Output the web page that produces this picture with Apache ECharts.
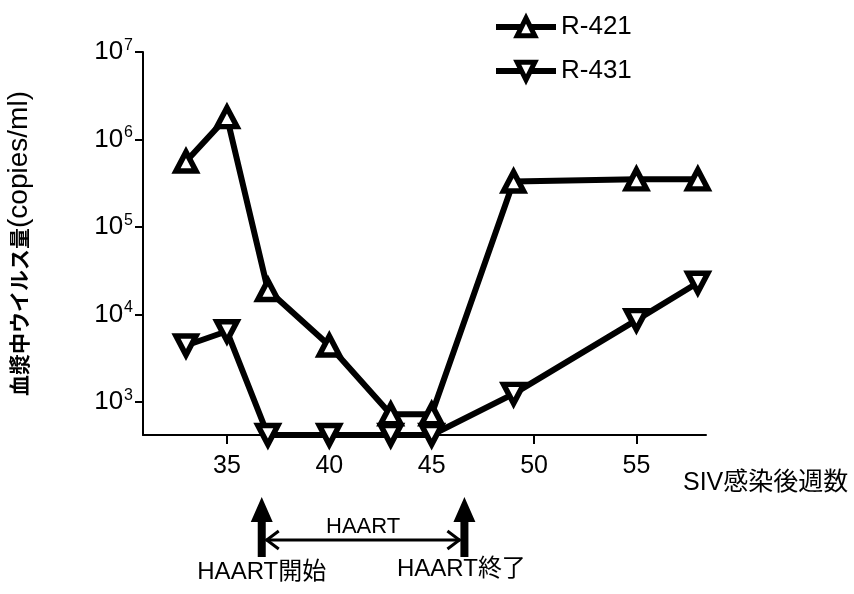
<!DOCTYPE html>
<html><head><meta charset="utf-8">
<script src="https://cdn.jsdelivr.net/npm/echarts@6/dist/echarts.min.js"></script>
<style>html,body{margin:0;padding:0;background:#fff}#c{width:854px;height:594px}</style>
</head><body><div id="c"></div>
<script>
const weeks = [33, 35, 37, 40, 43, 45, 49, 55, 58];
const r421 = [5.6e5, 1.8e6, 1.9e4, 4.4e3, 720, 720, 3.3e5, 3.5e5, 3.5e5];
const r431 = [4.4e3, 6.4e3, 417, 417, 417, 417, 1.23e3, 8.6e3, 2.3e4];
const seriesNames = ['R-421', 'R-431'];
const yTicks = [1e3, 1e4, 1e5, 1e6, 1e7];
const xTicks = [35, 40, 45, 50, 55];
const haartStart = 36.7, haartEnd = 46.6;
const xTitle = 'SIV感染後週数';
const yTitleJa = '血漿中ウイルス量';
const yTitleEn = '(copies/ml)';

const FONT = '"Liberation Sans", "Noto Sans CJK JP", sans-serif';
const chart = echarts.init(document.getElementById('c'), null, {renderer: 'canvas'});

function pairs(xs, ys) { return xs.map((x, i) => [x, ys[i]]); }

const common = {
  type: 'line',
  symbolSize: [20, 19],
  lineStyle: {color: '#000', width: 6},
  itemStyle: {color: '#fff', borderColor: '#000', borderWidth: 5.5},
  emphasis: {disabled: true},
  animation: false
};

chart.setOption({
  animation: false,
  backgroundColor: '#fff',
  textStyle: {fontFamily: FONT, color: '#000'},
  grid: {left: 143, right: 148, top: 52, bottom: 159, containLabel: false, outerBoundsMode: 'none'},
  legend: {
    orient: 'vertical', left: 488, top: 9, itemGap: 18,
    itemWidth: 60, itemHeight: 22,
    lineStyle: {width: 6, color: '#000'},
    itemStyle: {color: '#fff', borderColor: '#000', borderWidth: 5},
    textStyle: {fontSize: 26, color: '#000', fontFamily: FONT},
    data: seriesNames
  },
  xAxis: {
    type: 'value', min: 30.9, max: 58.4,
    axisLine: {show: true, lineStyle: {color: '#000', width: 2}},
    axisTick: {show: true, length: 9, lineStyle: {color: '#000', width: 2}, customValues: xTicks},
    axisLabel: {fontSize: 25, color: '#000', margin: 19, customValues: xTicks, fontFamily: FONT},
    splitLine: {show: false}
  },
  yAxis: {
    type: 'log', logBase: 10, min: 417, max: 1e7,
    axisLine: {show: true, lineStyle: {color: '#000', width: 2}},
    axisTick: {show: true, length: 8, lineStyle: {color: '#000', width: 2}, customValues: yTicks},
    axisLabel: {
      margin: 10, customValues: yTicks,
      formatter: v => '{b|10}{s|' + Math.round(Math.log10(v)) + '}',
      rich: {
        b: {fontSize: 26, color: '#000', fontFamily: FONT},
        s: {fontSize: 16, color: '#000', fontFamily: FONT, verticalAlign: 'top', padding: [0, 0, 13, 1]}
      }
    },
    splitLine: {show: false},
    name: '{j|' + yTitleJa + '}{e|' + yTitleEn + '}',
    nameLocation: 'middle', nameRotate: 90, nameGap: 110,
    nameTextStyle: {
      rich: {
        j: {fontSize: 21, color: '#000', fontFamily: '"Noto Sans CJK JP", sans-serif', fontWeight: 'bold'},
        e: {fontSize: 28, color: '#000', fontFamily: FONT}
      }
    }
  },
  series: [
    Object.assign({}, common, {name: seriesNames[0], symbol: 'triangle', data: pairs(weeks, r421)}),
    Object.assign({}, common, {name: seriesNames[1], symbol: 'triangle', symbolRotate: 180, data: pairs(weeks, r431)})
  ]
});

const xs = chart.convertToPixel({xAxisIndex: 0}, haartStart);
const xe = chart.convertToPixel({xAxisIndex: 0}, haartEnd);
function upArrow(x) {
  return {type: 'polygon', shape: {points: [
    [x - 4, 557], [x + 4, 557], [x + 4, 522], [x + 11, 522], [x, 497], [x - 11, 522], [x - 4, 522]
  ]}, style: {fill: '#000'}};
}
const yl = 540;
chart.setOption({
  graphic: [
    upArrow(xs), upArrow(xe),
    {type: 'line', shape: {x1: xs + 4, y1: yl, x2: xe - 4, y2: yl}, style: {stroke: '#000', lineWidth: 3}},
    {type: 'polyline', shape: {points: [[xs + 17, yl - 9], [xs + 5, yl], [xs + 17, yl + 9]]}, style: {stroke: '#000', lineWidth: 3, fill: null}},
    {type: 'polyline', shape: {points: [[xe - 17, yl - 9], [xe - 5, yl], [xe - 17, yl + 9]]}, style: {stroke: '#000', lineWidth: 3, fill: null}},
    {type: 'text', x: (xs + xe) / 2, y: 527, style: {text: 'HAART', font: '22px ' + FONT, fill: '#000', align: 'center', verticalAlign: 'middle'}},
    {type: 'text', x: xs, y: 572, style: {text: 'HAART開始', font: '24px ' + FONT, fill: '#000', align: 'center', verticalAlign: 'middle'}},
    {type: 'text', x: xe - 3, y: 569, style: {text: 'HAART終了', font: '24px ' + FONT, fill: '#000', align: 'center', verticalAlign: 'middle'}},
    {type: 'text', x: 683, y: 483, style: {text: xTitle, font: '25px ' + FONT, fill: '#000', align: 'left', verticalAlign: 'middle'}}
  ]
});
</script></body></html>
